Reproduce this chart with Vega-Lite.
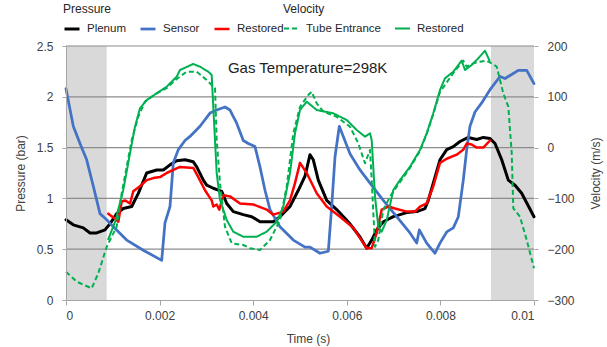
{
  "$schema": "https://vega.github.io/schema/vega-lite/v6.json",
  "width": 468,
  "height": 254,
  "autosize": {"type": "none"},
  "padding": {"left": 66, "top": 46, "right": 73, "bottom": 47},
  "background": "white",
  "config": {
    "view": {"stroke": null},
    "font": "Liberation Sans",
    "axis": {
      "labelFontSize": 12, "labelColor": "#404040",
      "titleFontSize": 12, "titleFontWeight": "normal", "titleColor": "#404040",
      "domainColor": "#A6A6A6", "tickColor": "#A6A6A6", "gridColor": "#A0A0A0",
      "gridWidth": 1, "tickSize": 4
    },
    "legend": {
      "labelFontSize": 11.5, "titleFontSize": 12, "titleFontWeight": "normal",
      "labelColor": "#262626", "titleColor": "#262626",
      "symbolType": "stroke", "symbolSize": 225, "gridAlign": "none",
      "labelOffset": 6, "columnPadding": 9, "titlePadding": 4, "padding": 0
    }
  },
  "datasets": {
    "shade": [
      {"start": 0, "end": 0.00087},
      {"start": 0.00908, "end": 0.01}
    ],
    "levels": [
      {"g": 0.5}, {"g": 1.0}, {"g": 1.5}, {"g": 2.0}, {"g": 2.5}
    ],
    "pressure": [
      {"t": 0.0, "p": 0.79, "s": "Plenum"},
      {"t": 0.000156, "p": 0.74, "s": "Plenum"},
      {"t": 0.00037, "p": 0.71, "s": "Plenum"},
      {"t": 0.000513, "p": 0.66, "s": "Plenum"},
      {"t": 0.000656, "p": 0.66, "s": "Plenum"},
      {"t": 0.000833, "p": 0.69, "s": "Plenum"},
      {"t": 0.00094, "p": 0.75, "s": "Plenum"},
      {"t": 0.001083, "p": 0.85, "s": "Plenum"},
      {"t": 0.001224, "p": 0.90, "s": "Plenum"},
      {"t": 0.001404, "p": 0.92, "s": "Plenum"},
      {"t": 0.001545, "p": 1.05, "s": "Plenum"},
      {"t": 0.001724, "p": 1.25, "s": "Plenum"},
      {"t": 0.001938, "p": 1.28, "s": "Plenum"},
      {"t": 0.002079, "p": 1.28, "s": "Plenum"},
      {"t": 0.002222, "p": 1.33, "s": "Plenum"},
      {"t": 0.002365, "p": 1.37, "s": "Plenum"},
      {"t": 0.002543, "p": 1.38, "s": "Plenum"},
      {"t": 0.00272, "p": 1.36, "s": "Plenum"},
      {"t": 0.002793, "p": 1.31, "s": "Plenum"},
      {"t": 0.002934, "p": 1.18, "s": "Plenum"},
      {"t": 0.003006, "p": 1.13, "s": "Plenum"},
      {"t": 0.003147, "p": 1.10, "s": "Plenum"},
      {"t": 0.003327, "p": 1.07, "s": "Plenum"},
      {"t": 0.003434, "p": 0.95, "s": "Plenum"},
      {"t": 0.003575, "p": 0.87, "s": "Plenum"},
      {"t": 0.003788, "p": 0.84, "s": "Plenum"},
      {"t": 0.003968, "p": 0.82, "s": "Plenum"},
      {"t": 0.004145, "p": 0.77, "s": "Plenum"},
      {"t": 0.004429, "p": 0.77, "s": "Plenum"},
      {"t": 0.004573, "p": 0.82, "s": "Plenum"},
      {"t": 0.004786, "p": 0.92, "s": "Plenum"},
      {"t": 0.004964, "p": 1.08, "s": "Plenum"},
      {"t": 0.005107, "p": 1.22, "s": "Plenum"},
      {"t": 0.005214, "p": 1.43, "s": "Plenum"},
      {"t": 0.005284, "p": 1.38, "s": "Plenum"},
      {"t": 0.005391, "p": 1.18, "s": "Plenum"},
      {"t": 0.005571, "p": 0.98, "s": "Plenum"},
      {"t": 0.005784, "p": 0.89, "s": "Plenum"},
      {"t": 0.006068, "p": 0.75, "s": "Plenum"},
      {"t": 0.006282, "p": 0.62, "s": "Plenum"},
      {"t": 0.006425, "p": 0.51, "s": "Plenum"},
      {"t": 0.006532, "p": 0.59, "s": "Plenum"},
      {"t": 0.006639, "p": 0.69, "s": "Plenum"},
      {"t": 0.00678, "p": 0.77, "s": "Plenum"},
      {"t": 0.006994, "p": 0.82, "s": "Plenum"},
      {"t": 0.00728, "p": 0.86, "s": "Plenum"},
      {"t": 0.007494, "p": 0.87, "s": "Plenum"},
      {"t": 0.007671, "p": 0.90, "s": "Plenum"},
      {"t": 0.007741, "p": 0.98, "s": "Plenum"},
      {"t": 0.007848, "p": 1.15, "s": "Plenum"},
      {"t": 0.007991, "p": 1.38, "s": "Plenum"},
      {"t": 0.008135, "p": 1.48, "s": "Plenum"},
      {"t": 0.008276, "p": 1.51, "s": "Plenum"},
      {"t": 0.008419, "p": 1.56, "s": "Plenum"},
      {"t": 0.008596, "p": 1.60, "s": "Plenum"},
      {"t": 0.008776, "p": 1.58, "s": "Plenum"},
      {"t": 0.008917, "p": 1.60, "s": "Plenum"},
      {"t": 0.00906, "p": 1.59, "s": "Plenum"},
      {"t": 0.009167, "p": 1.54, "s": "Plenum"},
      {"t": 0.00931, "p": 1.38, "s": "Plenum"},
      {"t": 0.009451, "p": 1.18, "s": "Plenum"},
      {"t": 0.009594, "p": 1.13, "s": "Plenum"},
      {"t": 0.009737, "p": 1.05, "s": "Plenum"},
      {"t": 0.01, "p": 0.82, "s": "Plenum"},

      {"t": 0.0, "p": 2.08, "s": "Sensor"},
      {"t": 0.000156, "p": 1.71, "s": "Sensor"},
      {"t": 0.000299, "p": 1.54, "s": "Sensor"},
      {"t": 0.000442, "p": 1.38, "s": "Sensor"},
      {"t": 0.000583, "p": 1.12, "s": "Sensor"},
      {"t": 0.000726, "p": 0.85, "s": "Sensor"},
      {"t": 0.00087, "p": 0.79, "s": "Sensor"},
      {"t": 0.001011, "p": 0.72, "s": "Sensor"},
      {"t": 0.001297, "p": 0.59, "s": "Sensor"},
      {"t": 0.001652, "p": 0.49, "s": "Sensor"},
      {"t": 0.002045, "p": 0.39, "s": "Sensor"},
      {"t": 0.002115, "p": 0.76, "s": "Sensor"},
      {"t": 0.002222, "p": 0.92, "s": "Sensor"},
      {"t": 0.002293, "p": 1.35, "s": "Sensor"},
      {"t": 0.0024, "p": 1.48, "s": "Sensor"},
      {"t": 0.002543, "p": 1.57, "s": "Sensor"},
      {"t": 0.00265, "p": 1.61, "s": "Sensor"},
      {"t": 0.002863, "p": 1.71, "s": "Sensor"},
      {"t": 0.003077, "p": 1.84, "s": "Sensor"},
      {"t": 0.00322, "p": 1.87, "s": "Sensor"},
      {"t": 0.003397, "p": 1.90, "s": "Sensor"},
      {"t": 0.003504, "p": 1.87, "s": "Sensor"},
      {"t": 0.003647, "p": 1.74, "s": "Sensor"},
      {"t": 0.003788, "p": 1.57, "s": "Sensor"},
      {"t": 0.003895, "p": 1.54, "s": "Sensor"},
      {"t": 0.004038, "p": 1.51, "s": "Sensor"},
      {"t": 0.004145, "p": 1.31, "s": "Sensor"},
      {"t": 0.004252, "p": 1.08, "s": "Sensor"},
      {"t": 0.004359, "p": 0.89, "s": "Sensor"},
      {"t": 0.004573, "p": 0.72, "s": "Sensor"},
      {"t": 0.004857, "p": 0.59, "s": "Sensor"},
      {"t": 0.005107, "p": 0.52, "s": "Sensor"},
      {"t": 0.005214, "p": 0.52, "s": "Sensor"},
      {"t": 0.005427, "p": 0.46, "s": "Sensor"},
      {"t": 0.005605, "p": 0.48, "s": "Sensor"},
      {"t": 0.005677, "p": 0.92, "s": "Sensor"},
      {"t": 0.005748, "p": 1.41, "s": "Sensor"},
      {"t": 0.00584, "p": 1.71, "s": "Sensor"},
      {"t": 0.005925, "p": 1.61, "s": "Sensor"},
      {"t": 0.006068, "p": 1.44, "s": "Sensor"},
      {"t": 0.006282, "p": 1.28, "s": "Sensor"},
      {"t": 0.006496, "p": 1.15, "s": "Sensor"},
      {"t": 0.00678, "p": 0.98, "s": "Sensor"},
      {"t": 0.007066, "p": 0.82, "s": "Sensor"},
      {"t": 0.00735, "p": 0.66, "s": "Sensor"},
      {"t": 0.007494, "p": 0.56, "s": "Sensor"},
      {"t": 0.007549, "p": 0.69, "s": "Sensor"},
      {"t": 0.007707, "p": 0.56, "s": "Sensor"},
      {"t": 0.007885, "p": 0.46, "s": "Sensor"},
      {"t": 0.007991, "p": 0.56, "s": "Sensor"},
      {"t": 0.008135, "p": 0.67, "s": "Sensor"},
      {"t": 0.008276, "p": 0.71, "s": "Sensor"},
      {"t": 0.008383, "p": 0.82, "s": "Sensor"},
      {"t": 0.008489, "p": 1.18, "s": "Sensor"},
      {"t": 0.008562, "p": 1.48, "s": "Sensor"},
      {"t": 0.008632, "p": 1.71, "s": "Sensor"},
      {"t": 0.008739, "p": 1.85, "s": "Sensor"},
      {"t": 0.008882, "p": 1.94, "s": "Sensor"},
      {"t": 0.00906, "p": 2.07, "s": "Sensor"},
      {"t": 0.009274, "p": 2.20, "s": "Sensor"},
      {"t": 0.00938, "p": 2.18, "s": "Sensor"},
      {"t": 0.009487, "p": 2.21, "s": "Sensor"},
      {"t": 0.009665, "p": 2.26, "s": "Sensor"},
      {"t": 0.009844, "p": 2.26, "s": "Sensor"},
      {"t": 0.01, "p": 2.13, "s": "Sensor"},

      {"t": 0.000904, "p": 0.85, "s": "Restored"},
      {"t": 0.001047, "p": 0.80, "s": "Restored"},
      {"t": 0.001118, "p": 0.77, "s": "Restored"},
      {"t": 0.00119, "p": 0.97, "s": "Restored"},
      {"t": 0.001261, "p": 0.98, "s": "Restored"},
      {"t": 0.001368, "p": 0.95, "s": "Restored"},
      {"t": 0.001438, "p": 1.07, "s": "Restored"},
      {"t": 0.001581, "p": 1.12, "s": "Restored"},
      {"t": 0.001724, "p": 1.18, "s": "Restored"},
      {"t": 0.001865, "p": 1.20, "s": "Restored"},
      {"t": 0.002009, "p": 1.21, "s": "Restored"},
      {"t": 0.002152, "p": 1.25, "s": "Restored"},
      {"t": 0.002293, "p": 1.28, "s": "Restored"},
      {"t": 0.002436, "p": 1.31, "s": "Restored"},
      {"t": 0.00272, "p": 1.30, "s": "Restored"},
      {"t": 0.002827, "p": 1.21, "s": "Restored"},
      {"t": 0.00297, "p": 1.08, "s": "Restored"},
      {"t": 0.003113, "p": 0.98, "s": "Restored"},
      {"t": 0.003147, "p": 0.92, "s": "Restored"},
      {"t": 0.00322, "p": 0.94, "s": "Restored"},
      {"t": 0.003276, "p": 0.89, "s": "Restored"},
      {"t": 0.003361, "p": 1.03, "s": "Restored"},
      {"t": 0.003504, "p": 1.02, "s": "Restored"},
      {"t": 0.003718, "p": 0.95, "s": "Restored"},
      {"t": 0.004002, "p": 0.94, "s": "Restored"},
      {"t": 0.004288, "p": 0.89, "s": "Restored"},
      {"t": 0.004429, "p": 0.84, "s": "Restored"},
      {"t": 0.004643, "p": 0.87, "s": "Restored"},
      {"t": 0.004786, "p": 0.98, "s": "Restored"},
      {"t": 0.004893, "p": 1.15, "s": "Restored"},
      {"t": 0.005, "p": 1.35, "s": "Restored"},
      {"t": 0.005143, "p": 1.25, "s": "Restored"},
      {"t": 0.005357, "p": 1.05, "s": "Restored"},
      {"t": 0.005571, "p": 0.92, "s": "Restored"},
      {"t": 0.005855, "p": 0.82, "s": "Restored"},
      {"t": 0.006139, "p": 0.71, "s": "Restored"},
      {"t": 0.006353, "p": 0.56, "s": "Restored"},
      {"t": 0.006425, "p": 0.51, "s": "Restored"},
      {"t": 0.006532, "p": 0.51, "s": "Restored"},
      {"t": 0.006639, "p": 0.66, "s": "Restored"},
      {"t": 0.006746, "p": 0.89, "s": "Restored"},
      {"t": 0.006887, "p": 0.92, "s": "Restored"},
      {"t": 0.00703, "p": 0.90, "s": "Restored"},
      {"t": 0.00728, "p": 0.87, "s": "Restored"},
      {"t": 0.007457, "p": 0.87, "s": "Restored"},
      {"t": 0.007564, "p": 0.92, "s": "Restored"},
      {"t": 0.007707, "p": 0.95, "s": "Restored"},
      {"t": 0.007848, "p": 1.12, "s": "Restored"},
      {"t": 0.007991, "p": 1.35, "s": "Restored"},
      {"t": 0.008135, "p": 1.39, "s": "Restored"},
      {"t": 0.008348, "p": 1.43, "s": "Restored"},
      {"t": 0.008489, "p": 1.48, "s": "Restored"},
      {"t": 0.008562, "p": 1.54, "s": "Restored"},
      {"t": 0.008669, "p": 1.53, "s": "Restored"},
      {"t": 0.008776, "p": 1.50, "s": "Restored"},
      {"t": 0.008917, "p": 1.50, "s": "Restored"},
      {"t": 0.00906, "p": 1.57, "s": "Restored"}
    ],
    "velocity": [
      {"t": 0.0, "v": -244.3, "s": "Tube Entrance"},
      {"t": 0.000229, "v": -264.0, "s": "Tube Entrance"},
      {"t": 0.000549, "v": -277.0, "s": "Tube Entrance"},
      {"t": 0.00069, "v": -247.4, "s": "Tube Entrance"},
      {"t": 0.00087, "v": -195.1, "s": "Tube Entrance"},
      {"t": 0.001083, "v": -155.7, "s": "Tube Entrance"},
      {"t": 0.00119, "v": -90.0, "s": "Tube Entrance"},
      {"t": 0.001297, "v": -37.6, "s": "Tube Entrance"},
      {"t": 0.001404, "v": 15.0, "s": "Tube Entrance"},
      {"t": 0.001545, "v": 60.8, "s": "Tube Entrance"},
      {"t": 0.001688, "v": 90.4, "s": "Tube Entrance"},
      {"t": 0.001938, "v": 106.9, "s": "Tube Entrance"},
      {"t": 0.002152, "v": 117.3, "s": "Tube Entrance"},
      {"t": 0.002365, "v": 135.0, "s": "Tube Entrance"},
      {"t": 0.002579, "v": 149.4, "s": "Tube Entrance"},
      {"t": 0.002793, "v": 149.4, "s": "Tube Entrance"},
      {"t": 0.003006, "v": 133.1, "s": "Tube Entrance"},
      {"t": 0.003184, "v": 116.7, "s": "Tube Entrance"},
      {"t": 0.00322, "v": 15.0, "s": "Tube Entrance"},
      {"t": 0.003291, "v": -70.3, "s": "Tube Entrance"},
      {"t": 0.003397, "v": -155.7, "s": "Tube Entrance"},
      {"t": 0.003541, "v": -188.4, "s": "Tube Entrance"},
      {"t": 0.003788, "v": -191.7, "s": "Tube Entrance"},
      {"t": 0.003932, "v": -198.2, "s": "Tube Entrance"},
      {"t": 0.004145, "v": -201.6, "s": "Tube Entrance"},
      {"t": 0.004359, "v": -181.9, "s": "Tube Entrance"},
      {"t": 0.004573, "v": -142.5, "s": "Tube Entrance"},
      {"t": 0.004716, "v": -77.0, "s": "Tube Entrance"},
      {"t": 0.004857, "v": 28.1, "s": "Tube Entrance"},
      {"t": 0.005, "v": 80.5, "s": "Tube Entrance"},
      {"t": 0.005177, "v": 103.5, "s": "Tube Entrance"},
      {"t": 0.00525, "v": 110.0, "s": "Tube Entrance"},
      {"t": 0.005357, "v": 87.2, "s": "Tube Entrance"},
      {"t": 0.005498, "v": 70.7, "s": "Tube Entrance"},
      {"t": 0.005784, "v": 60.8, "s": "Tube Entrance"},
      {"t": 0.006068, "v": 41.1, "s": "Tube Entrance"},
      {"t": 0.006246, "v": 8.5, "s": "Tube Entrance"},
      {"t": 0.006389, "v": -30.9, "s": "Tube Entrance"},
      {"t": 0.006496, "v": -4.7, "s": "Tube Entrance"},
      {"t": 0.006532, "v": -63.8, "s": "Tube Entrance"},
      {"t": 0.006603, "v": -195.1, "s": "Tube Entrance"},
      {"t": 0.006673, "v": -181.9, "s": "Tube Entrance"},
      {"t": 0.00678, "v": -122.8, "s": "Tube Entrance"},
      {"t": 0.006923, "v": -96.6, "s": "Tube Entrance"},
      {"t": 0.007066, "v": -77.0, "s": "Tube Entrance"},
      {"t": 0.00735, "v": -40.2, "s": "Tube Entrance"},
      {"t": 0.007564, "v": -6.7, "s": "Tube Entrance"},
      {"t": 0.007707, "v": 26.8, "s": "Tube Entrance"},
      {"t": 0.007848, "v": 66.1, "s": "Tube Entrance"},
      {"t": 0.007991, "v": 109.4, "s": "Tube Entrance"},
      {"t": 0.008276, "v": 146.8, "s": "Tube Entrance"},
      {"t": 0.008489, "v": 171.1, "s": "Tube Entrance"},
      {"t": 0.008562, "v": 159.3, "s": "Tube Entrance"},
      {"t": 0.008703, "v": 165.9, "s": "Tube Entrance"},
      {"t": 0.008846, "v": 169.1, "s": "Tube Entrance"},
      {"t": 0.008989, "v": 171.1, "s": "Tube Entrance"},
      {"t": 0.009096, "v": 165.9, "s": "Tube Entrance"},
      {"t": 0.009203, "v": 159.3, "s": "Tube Entrance"},
      {"t": 0.009344, "v": 106.9, "s": "Tube Entrance"},
      {"t": 0.009451, "v": 80.5, "s": "Tube Entrance"},
      {"t": 0.009524, "v": -11.2, "s": "Tube Entrance"},
      {"t": 0.009558, "v": -119.5, "s": "Tube Entrance"},
      {"t": 0.009701, "v": -136.0, "s": "Tube Entrance"},
      {"t": 0.009844, "v": -181.9, "s": "Tube Entrance"},
      {"t": 0.01, "v": -237.6, "s": "Tube Entrance"},

      {"t": 0.000897, "v": -181.9, "s": "Restored"},
      {"t": 0.001047, "v": -146.5, "s": "Restored"},
      {"t": 0.001224, "v": -83.5, "s": "Restored"},
      {"t": 0.001368, "v": -11.2, "s": "Restored"},
      {"t": 0.001474, "v": 41.1, "s": "Restored"},
      {"t": 0.001581, "v": 77.4, "s": "Restored"},
      {"t": 0.001724, "v": 93.7, "s": "Restored"},
      {"t": 0.001938, "v": 106.9, "s": "Restored"},
      {"t": 0.002152, "v": 119.9, "s": "Restored"},
      {"t": 0.002365, "v": 139.6, "s": "Restored"},
      {"t": 0.002436, "v": 152.8, "s": "Restored"},
      {"t": 0.00272, "v": 164.6, "s": "Restored"},
      {"t": 0.002863, "v": 159.3, "s": "Restored"},
      {"t": 0.003041, "v": 149.4, "s": "Restored"},
      {"t": 0.003113, "v": 142.9, "s": "Restored"},
      {"t": 0.003147, "v": 80.5, "s": "Restored"},
      {"t": 0.00322, "v": -50.6, "s": "Restored"},
      {"t": 0.003291, "v": -103.1, "s": "Restored"},
      {"t": 0.003434, "v": -142.5, "s": "Restored"},
      {"t": 0.003575, "v": -165.6, "s": "Restored"},
      {"t": 0.003788, "v": -175.4, "s": "Restored"},
      {"t": 0.004075, "v": -175.4, "s": "Restored"},
      {"t": 0.004288, "v": -165.6, "s": "Restored"},
      {"t": 0.004502, "v": -145.9, "s": "Restored"},
      {"t": 0.004643, "v": -116.3, "s": "Restored"},
      {"t": 0.004786, "v": -50.6, "s": "Restored"},
      {"t": 0.004893, "v": 28.1, "s": "Restored"},
      {"t": 0.005, "v": 74.0, "s": "Restored"},
      {"t": 0.005143, "v": 90.4, "s": "Restored"},
      {"t": 0.005357, "v": 74.0, "s": "Restored"},
      {"t": 0.005712, "v": 67.5, "s": "Restored"},
      {"t": 0.005998, "v": 54.3, "s": "Restored"},
      {"t": 0.006212, "v": 34.6, "s": "Restored"},
      {"t": 0.006389, "v": 21.5, "s": "Restored"},
      {"t": 0.006496, "v": 28.1, "s": "Restored"},
      {"t": 0.006532, "v": 15.0, "s": "Restored"},
      {"t": 0.006603, "v": -96.6, "s": "Restored"},
      {"t": 0.006673, "v": -155.7, "s": "Restored"},
      {"t": 0.006746, "v": -165.6, "s": "Restored"},
      {"t": 0.006853, "v": -142.5, "s": "Restored"},
      {"t": 0.006994, "v": -83.5, "s": "Restored"},
      {"t": 0.007137, "v": -63.8, "s": "Restored"},
      {"t": 0.00735, "v": -37.6, "s": "Restored"},
      {"t": 0.007564, "v": -4.7, "s": "Restored"},
      {"t": 0.007707, "v": 28.1, "s": "Restored"},
      {"t": 0.007848, "v": 67.5, "s": "Restored"},
      {"t": 0.007991, "v": 113.4, "s": "Restored"},
      {"t": 0.008098, "v": 136.4, "s": "Restored"},
      {"t": 0.008276, "v": 149.4, "s": "Restored"},
      {"t": 0.008455, "v": 171.1, "s": "Restored"},
      {"t": 0.008526, "v": 152.8, "s": "Restored"},
      {"t": 0.008669, "v": 162.6, "s": "Restored"},
      {"t": 0.00881, "v": 175.8, "s": "Restored"},
      {"t": 0.008953, "v": 190.7, "s": "Restored"},
      {"t": 0.00906, "v": 169.1, "s": "Restored"}
    ]
  },
  "layer": [
    {
      "data": {"name": "shade"},
      "mark": {"type": "rect", "color": "#D9D9D9"},
      "encoding": {
        "x": {
          "field": "start", "type": "quantitative",
          "scale": {"domain": [0, 0.01], "nice": false, "zero": false},
          "axis": {
            "title": "Time (s)", "values": [0, 0.002, 0.004, 0.006, 0.008, 0.01],
            "format": "~f", "grid": false, "tickSize": 5, "labelPadding": 5,
            "titleX": 242, "titleY": 33, "titleBaseline": "top", "zindex": 1
          }
        },
        "x2": {"field": "end"}
      }
    },
    {
      "data": {"name": "levels"},
      "mark": {"type": "rule", "stroke": "#8C8C8C", "strokeWidth": 1.2, "opacity": 1},
      "encoding": {
        "x": {
          "datum": 0, "type": "quantitative",
          "scale": {"domain": [0, 0.01], "nice": false, "zero": false},
          "axis": {
            "title": "Time (s)", "values": [0, 0.002, 0.004, 0.006, 0.008, 0.01],
            "format": "~f", "grid": false, "tickSize": 5, "labelPadding": 5,
            "titleX": 242, "titleY": 33, "titleBaseline": "top", "zindex": 1
          }
        },
        "x2": {"datum": 0.01},
        "y": {
          "field": "g", "type": "quantitative",
          "scale": {"domain": [0, 2.5], "nice": false, "zero": false},
          "axis": null
        },
        "y2": {"field": "g"}
      }
    },
    {
      "data": {"name": "pressure"},
      "mark": {"type": "line", "strokeJoin": "round", "strokeCap": "round"},
      "encoding": {
        "x": {
          "field": "t", "type": "quantitative",
          "scale": {"domain": [0, 0.01], "nice": false, "zero": false},
          "axis": {
            "title": "Time (s)", "values": [0, 0.002, 0.004, 0.006, 0.008, 0.01],
            "format": "~f", "grid": false, "tickSize": 5, "labelPadding": 5,
            "titleX": 242, "titleY": 33, "titleBaseline": "top", "zindex": 1
          }
        },
        "y": {
          "field": "p", "type": "quantitative",
          "scale": {"domain": [0, 2.5], "nice": false, "zero": false},
          "axis": {
            "orient": "left", "title": "Pressure (bar)",
            "values": [0, 0.5, 1, 1.5, 2, 2.5], "format": "~f",
            "grid": false, "domain": true, "ticks": true, "labelPadding": 9, "zindex": 1,
            "titleX": -46, "titleY": 127, "titleAngle": -90,
            "titleBaseline": "middle", "titleAlign": "center"
          }
        },
        "color": {
          "field": "s", "type": "nominal",
          "scale": {"domain": ["Plenum", "Sensor", "Restored"], "range": ["#000000", "#4472C4", "#FF0000"]},
          "legend": {
            "title": "Pressure", "orient": "none", "direction": "horizontal",
            "legendX": -3, "legendY": -42, "symbolStrokeWidth": 3
          }
        },
        "strokeWidth": {
          "field": "s", "type": "nominal",
          "scale": {"domain": ["Plenum", "Sensor", "Restored"], "range": [3, 2.5, 3]},
          "legend": null
        }
      }
    },
    {
      "data": {"values": [{"label": "Gas Temperature=298K"}]},
      "mark": {"type": "text", "align": "left", "baseline": "middle", "fontSize": 15, "color": "#222222"},
      "encoding": {
        "x": {
          "datum": 0.00346, "type": "quantitative",
          "scale": {"domain": [0, 0.01], "nice": false, "zero": false},
          "axis": {
            "title": "Time (s)", "values": [0, 0.002, 0.004, 0.006, 0.008, 0.01],
            "format": "~f", "grid": false, "tickSize": 5, "labelPadding": 5,
            "titleX": 242, "titleY": 33, "titleBaseline": "top", "zindex": 1
          }
        },
        "y": {
          "datum": 2.283, "type": "quantitative",
          "scale": {"domain": [0, 2.5], "nice": false, "zero": false},
          "axis": null
        },
        "text": {"field": "label"}
      }
    },
    {
      "data": {"name": "velocity"},
      "mark": {"type": "line", "strokeWidth": 2, "strokeJoin": "round"},
      "encoding": {
        "x": {
          "field": "t", "type": "quantitative",
          "scale": {"domain": [0, 0.01], "nice": false, "zero": false},
          "axis": {
            "title": "Time (s)", "values": [0, 0.002, 0.004, 0.006, 0.008, 0.01],
            "format": "~f", "grid": false, "tickSize": 5, "labelPadding": 5,
            "titleX": 242, "titleY": 33, "titleBaseline": "top", "zindex": 1
          }
        },
        "y": {
          "field": "v", "type": "quantitative",
          "scale": {"domain": [-300, 200], "nice": false, "zero": false},
          "axis": {
            "orient": "right", "title": "Velocity (m/s)",
            "values": [-300, -200, -100, 0, 100, 200],
            "grid": false, "domain": false, "ticks": true, "labelPadding": 9,
            "titleX": 61, "titleY": 127, "titleAngle": -90,
            "titleBaseline": "middle", "titleAlign": "center"
          }
        },
        "color": {
          "field": "s", "type": "nominal",
          "scale": {"domain": ["Tube Entrance", "Restored"], "range": ["#00B050", "#00B050"]},
          "legend": {
            "title": "Velocity", "orient": "none", "direction": "horizontal",
            "legendX": 217, "legendY": -42, "symbolStrokeWidth": 2
          }
        },
        "strokeDash": {
          "field": "s", "type": "nominal",
          "scale": {"domain": ["Tube Entrance", "Restored"], "range": [[5, 3], [1, 0]]},
          "legend": {
            "title": "Velocity", "orient": "none", "direction": "horizontal",
            "legendX": 217, "legendY": -42, "symbolStrokeWidth": 2
          }
        }
      }
    }
  ],
  "resolve": {"scale": {"y": "independent", "color": "independent", "strokeDash": "independent", "strokeWidth": "independent"}}
}
